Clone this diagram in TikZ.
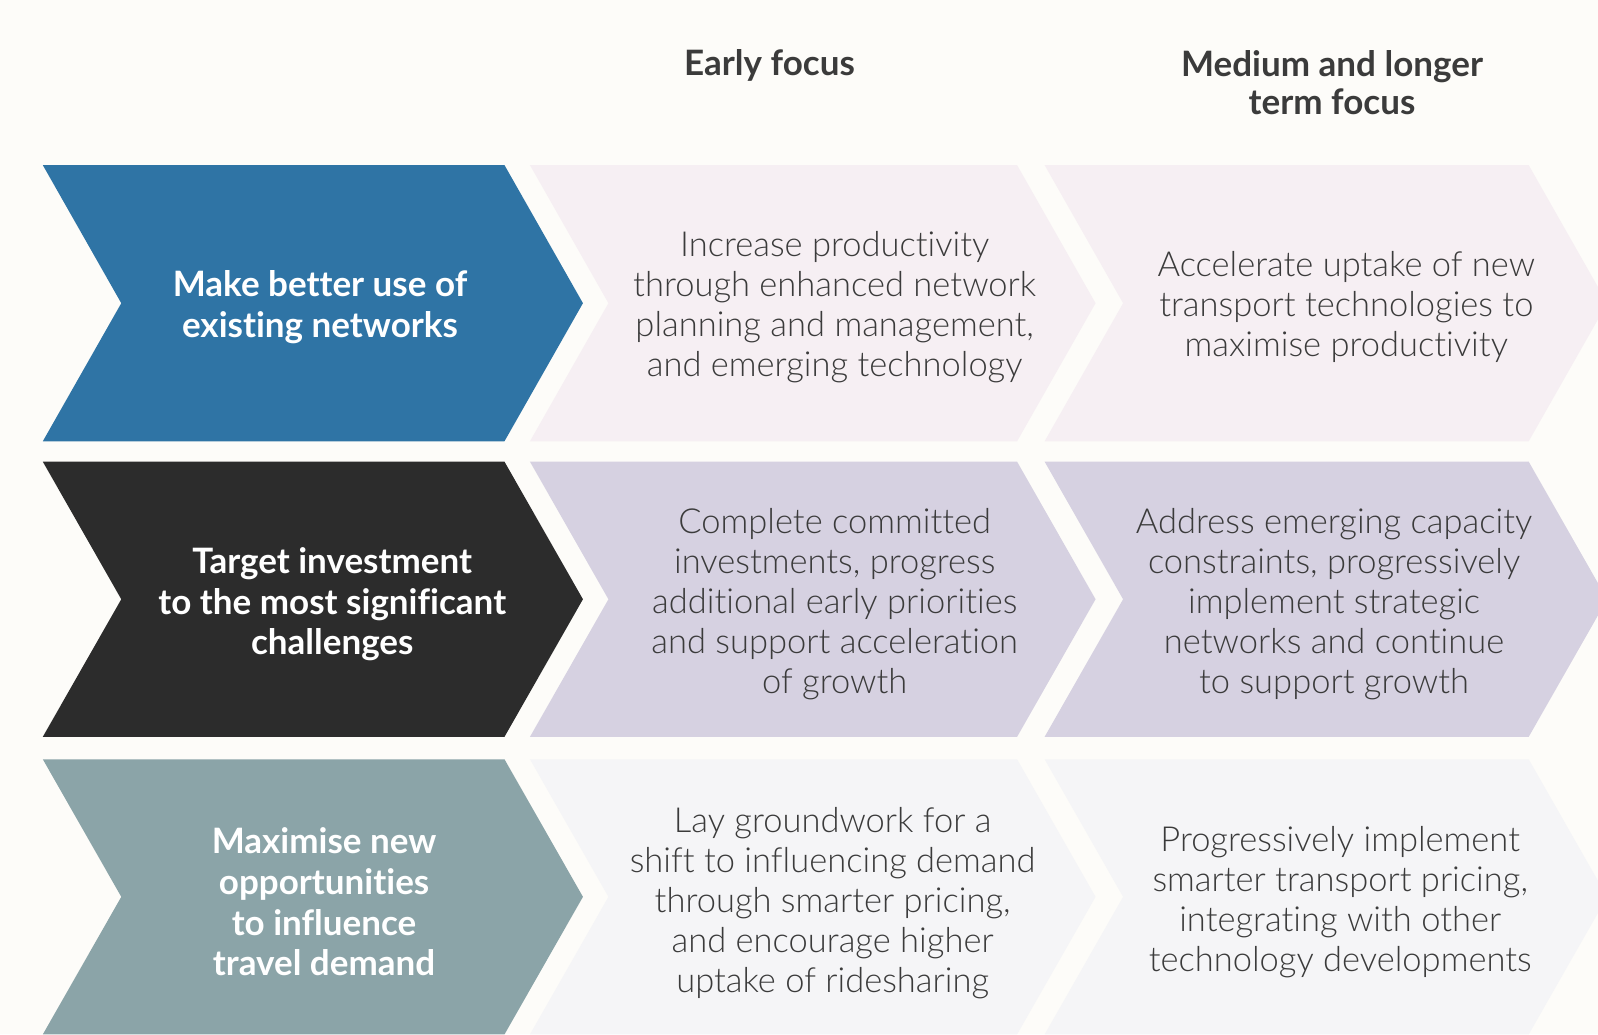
\documentclass[tikz,border=0pt]{standalone}
\usepackage{fontspec}
\setmainfont[Ligatures=NoCommon]{Lato}
\newfontfamily\lightfont[Ligatures=NoCommon]{Lato Light}
\definecolor{bgc}{HTML}{FDFCF9}
\definecolor{bluec}{HTML}{2F74A5}
\definecolor{darkc}{HTML}{2C2C2C}
\definecolor{tealc}{HTML}{8BA4A8}
\definecolor{pinkc}{HTML}{F6EFF3}
\definecolor{lavc}{HTML}{D6D1E1}
\definecolor{palec}{HTML}{F5F5F7}
\definecolor{txtc}{HTML}{3B3B3B}
\newcommand\chev[6]{\fill[#6] (#1,#3) -- (#2,#3) -- ({#2+#5},{(#3+#4)/2}) -- (#2,#4) -- (#1,#4) -- ({#1+#5},{(#3+#4)/2}) -- cycle;}
\tikzset{
  lbl/.style={align=center, text=white, font=\bfseries\fontsize{35}{40.8}\selectfont, inner sep=0pt},
  body/.style={align=center, text=txtc, font=\lightfont\fontsize{34.5}{40}\selectfont, inner sep=0pt},
  head/.style={align=center, text=txtc, font=\bfseries\fontsize{35}{37.7}\selectfont, inner sep=0pt}
}
\begin{document}
\begin{tikzpicture}[x=1.0191pt,y=-1.0191pt]
\fill[bgc] (0,0) rectangle (1568,1014.6);
\useasboundingbox (0,0) rectangle (1568,1014.6);
\clip (0,0) rectangle (1568,1014.6);
% row 1
\chev{42}{495}{162}{433}{77}{bluec}
\chev{520}{998}{162}{433}{77}{pinkc}
\chev{1025}{1500}{162}{433}{77}{pinkc}
% row 2
\chev{42}{495}{453}{723}{77}{darkc}
\chev{520}{998}{453}{723}{77}{lavc}
\chev{1025}{1500}{453}{723}{77}{lavc}
% row 3
\chev{42}{495}{745}{1015}{77}{tealc}
\chev{520}{998}{745}{1015}{77}{palec}
\chev{1025}{1500}{745}{1015}{77}{palec}
% headers
\node[head] (h1) at (755,64) {Early focus};
\node[head] (h2) at (1307,81) {Medium and longer\\term focus};
% labels
\node[lbl] (l1) at (314,301) {Make better use of\\existing networks};
\node[lbl] (l2) at (326,593) {Target investment\\to the most significant\\challenges};
\node[lbl] (l3) at (318,885) {Maximise new\\opportunities\\to influence\\travel demand};
% early
\node[body] (e1) at (819,301) {Increase productivity\\through enhanced network\\planning and management,\\and emerging technology};
\node[body] (e2) at (819,593) {Complete committed\\investments, progress\\additional early priorities\\and support acceleration\\of growth};
\node[body] (e3) at (817,886) {Lay groundwork for a\\shift to influencing demand\\through smarter pricing,\\and encourage higher\\uptake of ridesharing};
% medium
\node[body] (m1) at (1321,301) {Accelerate uptake of new\\transport technologies to\\maximise productivity};
\node[body] (m2) at (1309,593) {Address emerging capacity\\constraints, progressively\\implement strategic\\networks and continue\\to support growth};
\node[body] (m3) at (1315,885) {Progressively implement\\smarter transport pricing,\\integrating with other\\technology developments};
\end{tikzpicture}
\end{document}
